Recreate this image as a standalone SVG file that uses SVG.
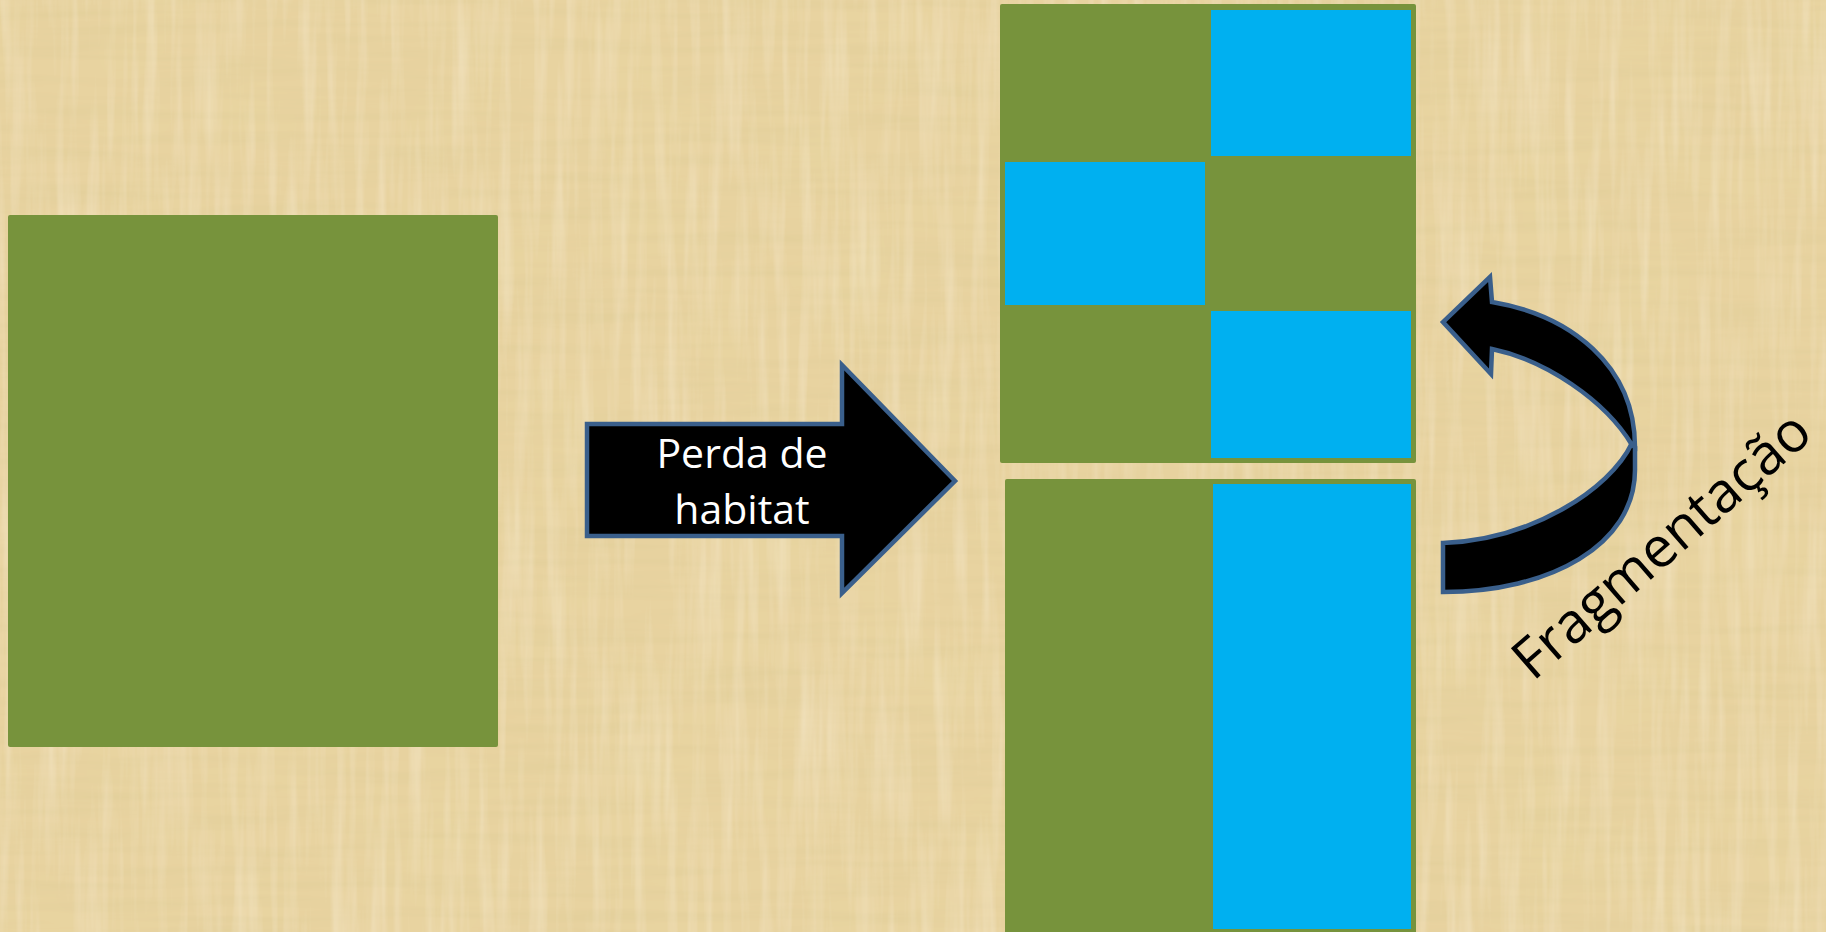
<svg xmlns="http://www.w3.org/2000/svg" width="1826" height="932" viewBox="0 0 1826 932">
  <defs>
    <filter id="papyrus" x="0" y="0" width="100%" height="100%">
      <feTurbulence type="fractalNoise" baseFrequency="0.006 0.09" numOctaves="3" seed="3" result="h"/>
      <feColorMatrix in="h" type="matrix" values="0 0 0 0 0.72  0 0 0 0 0.6  0 0 0 0 0.3  0 0 0 0.8 -0.3" result="hc"/>
      <feTurbulence type="fractalNoise" baseFrequency="0.09 0.006" numOctaves="3" seed="7" result="v"/>
      <feColorMatrix in="v" type="matrix" values="0 0 0 0 0.98  0 0 0 0 0.9  0 0 0 0 0.72  0 0 0 0.6 -0.25" result="vc"/>
      <feTurbulence type="fractalNoise" baseFrequency="0.01" numOctaves="2" seed="11" result="b"/>
      <feColorMatrix in="b" type="matrix" values="0 0 0 0 0.8  0 0 0 0 0.68  0 0 0 0 0.35  0 0 0 0.7 -0.3" result="bc"/>
      <feMerge>
        <feMergeNode in="SourceGraphic"/>
        <feMergeNode in="bc"/>
        <feMergeNode in="hc"/>
        <feMergeNode in="vc"/>
      </feMerge>
    </filter>
    <style>
      .green { fill: #77933C; }
      .blue { fill: #00B0F0; }
      .arrow { fill: #000000; stroke: #3A5F8B; stroke-width: 4.5; stroke-linejoin: miter; }
      .label { font-family: "Open Sans", "Noto Sans", "Liberation Sans", sans-serif; }
    </style>
  </defs>

  <rect id="background" x="0" y="0" width="1826" height="932" fill="#E8D3A0" filter="url(#papyrus)"/>

  <g id="habitat-original">
    <rect class="green" x="8" y="215" width="490" height="532" rx="2"/>
  </g>

  <g id="habitat-fragmented">
    <rect class="green" x="1000" y="4" width="416" height="459" rx="2"/>
    <rect class="blue" x="1211" y="10" width="200" height="146"/>
    <rect class="blue" x="1005" y="162" width="200" height="143"/>
    <rect class="blue" x="1211" y="311" width="200" height="147"/>
  </g>

  <g id="habitat-reduced">
    <rect class="green" x="1005" y="479" width="411" height="460" rx="2"/>
    <rect class="blue" x="1213" y="484" width="198" height="445"/>
  </g>

  <g id="connectors">
    <g id="arrow-perda">
      <polygon class="arrow" points="587,424 842,424 842,365 955,481 842,593 842,536 587,536"/>
      <text class="label" x="742" y="468" font-size="41" fill="#FFFFFF" text-anchor="middle">Perda de</text>
      <text class="label" x="742" y="524" font-size="41" fill="#FFFFFF" text-anchor="middle">habitat</text>
    </g>
    <g id="arrow-fragmentacao">
      <path class="arrow" d="M1443,543 C1530,540 1610,490 1632,443 L1635,447 L1635,470 C1635,545 1550,592 1443,592 Z"/>
      <path class="arrow" d="M1632,445 C1605,400 1545,360 1492,349 L1491,374 L1443,322 L1490,277 L1492,302 C1570,315 1635,365 1635,447 Z"/>
      <text class="label" x="0" y="0" font-size="56" fill="#000000" transform="translate(1533,682) rotate(-41)">Fragmentação</text>
    </g>
  </g>
</svg>
